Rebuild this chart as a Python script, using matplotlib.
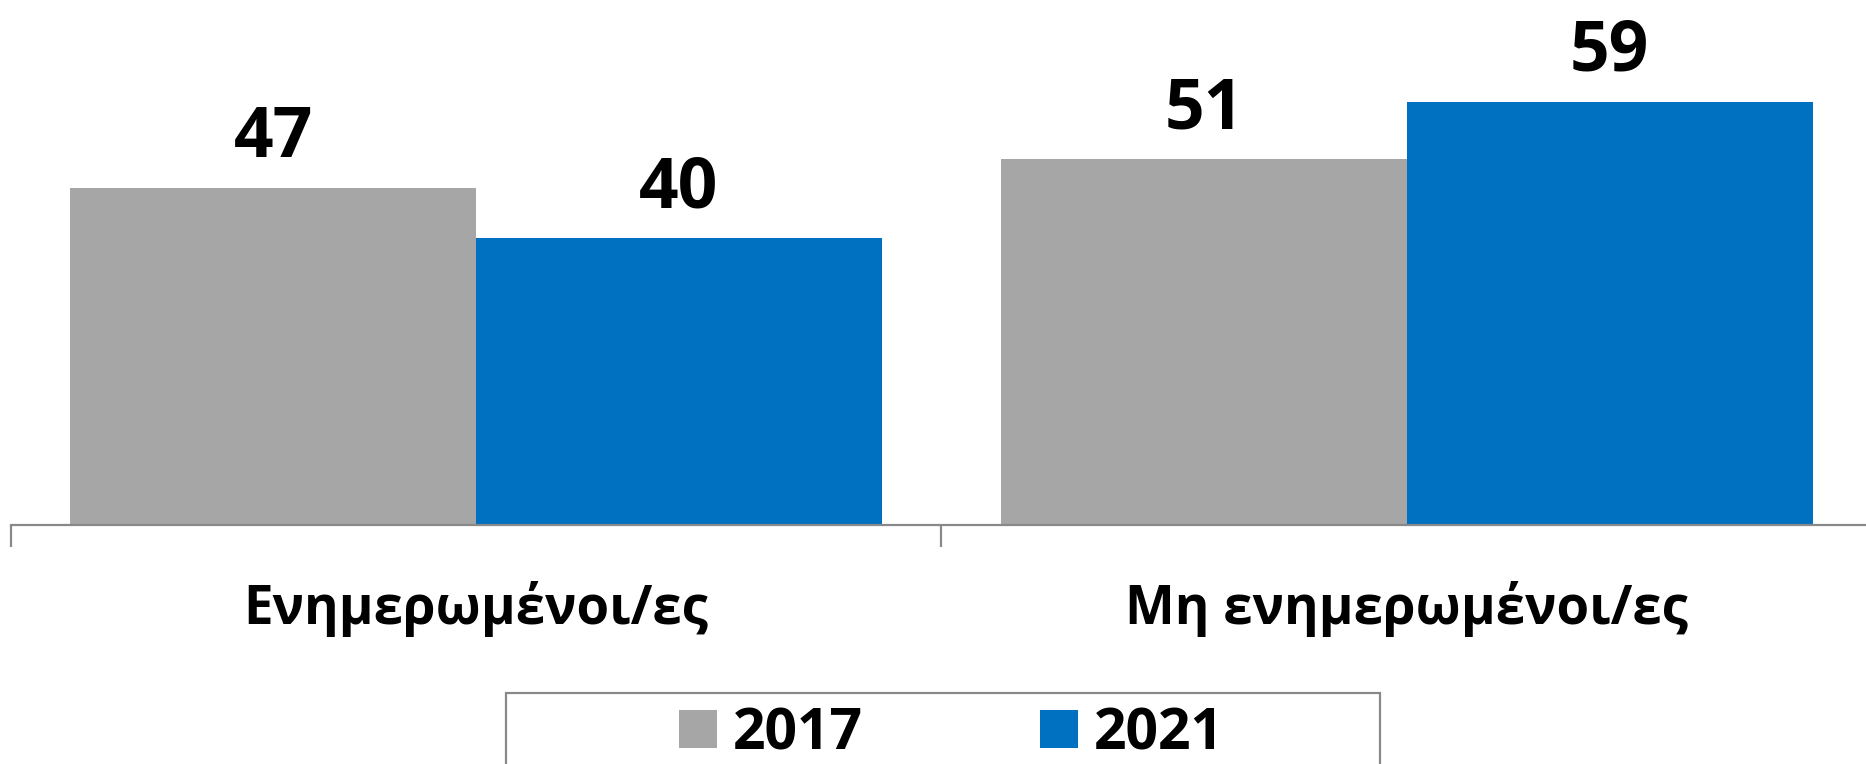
import matplotlib
matplotlib.use("Agg")
import matplotlib.pyplot as plt
from matplotlib.patches import Rectangle
import numpy as np

plt.rcParams['font.family'] = ['Open Sans', 'DejaVu Sans']
plt.rcParams['font.weight'] = 'bold'

categories = ["Ενημερωμένοι/ες", "Μη ενημερωμένοι/ες"]
series_names = ["2017", "2021"]
values_2017 = [47, 51]
values_2021 = [40, 59]
colors = ["#A6A6A6", "#0070C0"]

W, H = 1866, 764
fig = plt.figure(figsize=(W / 100, H / 100), dpi=100)
ax = fig.add_axes([10.7 / W, 1 - 525 / H, 1861.5 / W, 525 / H])

x = np.arange(len(categories))
bw = 0.436
b1 = ax.bar(x - bw / 2, values_2017, bw, color=colors[0], label=series_names[0])
b2 = ax.bar(x + bw / 2, values_2021, bw, color=colors[1], label=series_names[1])
for bars in (b1, b2):
    ax.bar_label(bars, padding=10, fontsize=50, fontweight='bold', color='black')

ax.set_xlim(-0.5, len(categories) - 0.5)
ax.set_ylim(0, 73.2)

for s in ['top', 'left', 'right']:
    ax.spines[s].set_visible(False)
ax.spines['bottom'].set_color('#898989')
ax.spines['bottom'].set_linewidth(1.6)
ax.set_yticks([])

ax.set_xticks(np.arange(len(categories) + 1) - 0.5)
ax.set_xticklabels([])
ax.tick_params(axis='x', which='major', length=16, width=1.6, color='#898989', direction='out')
ax.set_xticks(x, minor=True)
ax.set_xticklabels(categories, minor=True, fontsize=38, fontweight='bold')
ax.tick_params(axis='x', which='minor', length=0, pad=40)

leg = fig.legend(handles=[b1, b2], labels=series_names, loc='center',
                 bbox_to_anchor=(951.5 / W, 1 - 734 / H), ncol=2, frameon=False,
                 fontsize=41, handlelength=0.67, handleheight=0.67,
                 handletextpad=0.28, columnspacing=3.1, borderpad=0)
for t in leg.get_texts():
    t.set_fontweight('bold')

fig.patches.append(Rectangle((506 / W, -0.05), 874 / W, (764 - 693) / H + 0.05,
                             transform=fig.transFigure, fill=False,
                             edgecolor='#898989', linewidth=1.6))

fig.savefig("out.png", dpi=100)
